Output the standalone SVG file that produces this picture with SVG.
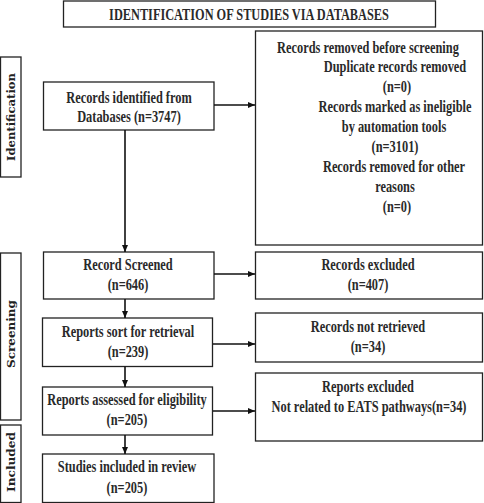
<svg xmlns="http://www.w3.org/2000/svg" width="484" height="503" viewBox="0 0 484 503">
<defs>
<marker id="ah" markerUnits="userSpaceOnUse" markerWidth="7" markerHeight="6" refX="7" refY="3" orient="auto">
<path d="M0,0 L7,3 L0,6 Z" fill="#111"/>
</marker>
<style>
.box{fill:#fff;stroke:#222;stroke-width:1.3}
.t{font-family:"Liberation Serif","Times New Roman",serif;font-size:16.5px;font-weight:bold;fill:#2a2a2a;text-anchor:middle}
.s{font-family:"DejaVu Serif",serif;font-weight:bold;font-size:11.5px;fill:#222;text-anchor:middle}
.c{stroke:#111;stroke-width:1.6;fill:none}
</style>
</defs>
<rect width="484" height="503" fill="#fff"/>
<g id="title">
<rect class="box" x="63.5" y="1" width="372" height="26"/>
<g transform="scale(0.75,1)"><text class="t" x="332" y="20" textLength="373" lengthAdjust="spacingAndGlyphs">IDENTIFICATION OF STUDIES VIA DATABASES</text></g>
</g>
<g id="lab-identification">
<rect class="box" x="0.5" y="57" width="20.5" height="120"/>
<text class="s" transform="translate(15,117) rotate(-90)" x="0" y="0" textLength="88" lengthAdjust="spacingAndGlyphs">Identification</text>
</g>
<g id="lab-screening">
<rect class="box" x="0.5" y="253" width="20.5" height="167"/>
<text class="s" transform="translate(15,334) rotate(-90)" x="0" y="0" textLength="68" lengthAdjust="spacingAndGlyphs">Screening</text>
</g>
<g id="lab-included">
<rect class="box" x="0.5" y="425" width="20.5" height="77.5"/>
<text class="s" transform="translate(15,462) rotate(-90)" x="0" y="0" textLength="60" lengthAdjust="spacingAndGlyphs">Included</text>
</g>
<g id="n-identified">
<rect class="box" x="43.5" y="82" width="170.5" height="48"/>
<g transform="scale(0.75,1)">
<text class="t" x="172" y="103">Records identified from</text>
<text class="t" x="172" y="122">Databases (n=3747)</text>
</g>
</g>
<g id="n-removed">
<rect class="box" x="255.5" y="31" width="227" height="214"/>
<g transform="scale(0.75,1)">
<text class="t" x="490.67" y="53">Records removed before screening</text>
<text class="t" x="526.67" y="72">Duplicate records removed</text>
<text class="t" x="529.33" y="92">(n=0)</text>
<text class="t" x="526.67" y="112">Records marked as ineligible</text>
<text class="t" x="525.33" y="132">by automation tools</text>
<text class="t" x="526.67" y="152">(n=3101)</text>
<text class="t" x="525.33" y="172">Records removed for other</text>
<text class="t" x="526.67" y="192">reasons</text>
<text class="t" x="529.33" y="212">(n=0)</text>
</g>
</g>
<g id="n-screened">
<rect class="box" x="43.5" y="252" width="170.5" height="47"/>
<g transform="scale(0.75,1)">
<text class="t" x="170.67" y="270">Record Screened</text>
<text class="t" x="170.67" y="290">(n=646)</text>
</g>
</g>
<g id="n-excluded">
<rect class="box" x="255.5" y="252" width="227" height="47"/>
<g transform="scale(0.75,1)">
<text class="t" x="490.67" y="270">Records excluded</text>
<text class="t" x="490.67" y="290">(n=407)</text>
</g>
</g>
<g id="n-sought">
<rect class="box" x="42.5" y="318" width="170" height="48.5"/>
<g transform="scale(0.75,1)">
<text class="t" x="170.67" y="337">Reports sort for retrieval</text>
<text class="t" x="170.67" y="357">(n=239)</text>
</g>
</g>
<g id="n-notretrieved">
<rect class="box" x="255.5" y="313" width="227" height="49"/>
<g transform="scale(0.75,1)">
<text class="t" x="490.67" y="332">Records not retrieved</text>
<text class="t" x="490.67" y="352">(n=34)</text>
</g>
</g>
<g id="n-assessed">
<rect class="box" x="42.5" y="387" width="170" height="48"/>
<g transform="scale(0.75,1)">
<text class="t" x="169.33" y="405">Reports assessed for eligibility</text>
<text class="t" x="169.33" y="425">(n=205)</text>
</g>
</g>
<g id="n-repexcluded">
<rect class="box" x="255.5" y="373" width="227" height="68"/>
<g transform="scale(0.75,1)">
<text class="t" x="490.67" y="392">Reports excluded</text>
<text class="t" x="492" y="412">Not related to EATS pathways(n=34)</text>
</g>
</g>
<g id="n-included">
<rect class="box" x="42.5" y="454" width="171.5" height="48.5"/>
<g transform="scale(0.75,1)">
<text class="t" x="169.33" y="472">Studies included in review</text>
<text class="t" x="169.33" y="493">(n=205)</text>
</g>
</g>
<g id="connectors">
<line class="c" x1="214" y1="105" x2="255" y2="105" marker-end="url(#ah)"/>
<line class="c" x1="214" y1="274" x2="255" y2="274" marker-end="url(#ah)"/>
<line class="c" x1="213" y1="344" x2="255" y2="344" stroke-width="2.2" marker-end="url(#ah)"/>
<line class="c" x1="213" y1="411" x2="255" y2="411" stroke-width="2.2" marker-end="url(#ah)"/>
<line class="c" x1="125" y1="130" x2="125" y2="252" marker-end="url(#ah)"/>
<line class="c" x1="125" y1="299" x2="125" y2="318" marker-end="url(#ah)"/>
<line class="c" x1="125" y1="366.5" x2="125" y2="387" marker-end="url(#ah)"/>
<line class="c" x1="125" y1="435" x2="125" y2="454" marker-end="url(#ah)"/>
</g>
</svg>
